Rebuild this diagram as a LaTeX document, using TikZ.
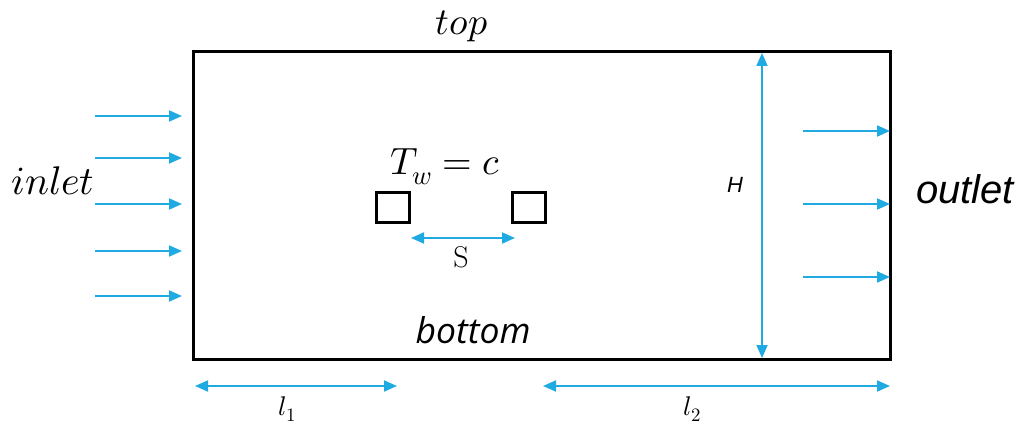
\documentclass[tikz,border=0pt]{standalone}
\usepackage{fontspec}
\usepackage{unicode-math}
\setmathfont{Latin Modern Math}
\newfontfamily\arialfont{Liberation Sans}
\newfontfamily\opensans{Open Sans}
\usetikzlibrary{arrows.meta}
\definecolor{flowblue}{RGB}{32,170,226}
\tikzset{
  wall/.style={draw=black, line width=3pt},
  flow/.style={draw=flowblue, line width=1.8pt, -{Triangle[length=13pt,width=11pt]}},
  dim/.style={draw=flowblue, line width=1.8pt, {Triangle[length=13pt,width=11pt]}-{Triangle[length=13pt,width=11pt]}},
  block/.style={draw=black, line width=2.5pt, minimum width=33pt, minimum height=30pt, inner sep=0pt},
  lbl/.style={inner sep=0pt, anchor=base},
}
\begin{document}
\begin{tikzpicture}[x=1pt,y=-1pt]
\useasboundingbox (0,0) rectangle (1022,427);
% channel
\coordinate (bl) at (193,359);
\coordinate (tr) at (890,52);
\draw[wall] (bl) rectangle (tr);
% inlet arrows
\foreach \i/\y in {1/116,2/158,3/204,4/251,5/296}{
  \coordinate (is\i) at (95,\y);
  \coordinate (ie\i) at (182,\y);
  \draw[flow] (is\i) -- (ie\i);
}
% outlet arrows
\foreach \i/\y in {1/131,2/204,3/277}{
  \coordinate (os\i) at (803,\y);
  \coordinate (oe\i) at (890,\y);
  \draw[flow] (os\i) -- (oe\i);
}
% blocks
\node[block] (b1) at (393,207.5) {};
\node[block] (b2) at (529,207.5) {};
% S dimension
\coordinate (s1) at (411,238);
\coordinate (s2) at (515,238);
\draw[dim] (s1) -- (s2);
\node[lbl, font=\fontsize{30}{32}\selectfont] (S) at (461,268) {S};
% H dimension
\coordinate (h1) at (762,53);
\coordinate (h2) at (762,358);
\draw[dim] (h1) -- (h2);
\node[lbl, font=\arialfont\itshape\fontsize{22}{24}\selectfont] (H) at (735,193) {H};
% bottom dimensions
\coordinate (l1a) at (195,386);
\coordinate (l1b) at (397,386);
\draw[dim] (l1a) -- (l1b);
\coordinate (l2a) at (543,386);
\coordinate (l2b) at (890,386);
\draw[dim] (l2a) -- (l2b);
\node[lbl, font=\fontsize{27}{29}\selectfont] (L1) at (287,415) {$l_1$};
\node[lbl, font=\fontsize{27}{29}\selectfont] (L2) at (692,415) {$l_2$};
% texts
\node[lbl, font=\fontsize{40}{42}\selectfont] (inlet) at (53,195) {$inlet$};
\node[lbl, font=\fontsize{38}{40}\selectfont] (top) at (462,35) {$top$};
\node[lbl, font=\fontsize{38}{40}\selectfont] (Tw) at (445,175) {$T_w = c$};
\node[lbl, font=\opensans\itshape\fontsize{35.5}{38}\selectfont] (bottom) at (473,343) {bottom};
\node[lbl, font=\arialfont\itshape\fontsize{40}{42}\selectfont] (outlet) at (965,204) {outlet};
\end{tikzpicture}
\end{document}
